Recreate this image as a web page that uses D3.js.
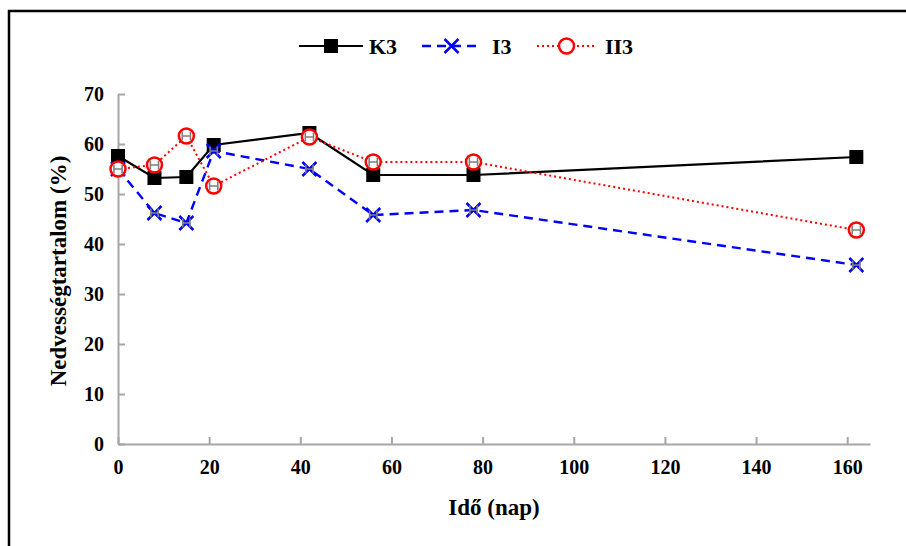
<!DOCTYPE html>
<html>
<head>
<meta charset="utf-8">
<script src="https://cdn.jsdelivr.net/npm/d3@7"></script>
<style>
  html, body { margin: 0; padding: 0; background: #fff; }
  svg { display: block; }
  text { font-family: "Liberation Serif", "Times New Roman", serif; font-weight: bold; fill: #000; }
</style>
</head>
<body>
<svg id="chart" width="906" height="546"></svg>
<script>
const days = [0, 8, 15, 21, 42, 56, 78, 162];
const seriesNames = ["K3", "I3", "II3"];
const k3 = [57.6, 53.2, 53.4, 59.8, 62.2, 53.8, 53.8, 57.4];
const i3 = [55.0, 46.2, 44.2, 58.6, 55.0, 45.8, 46.8, 35.8];
const ii3 = [55.0, 55.8, 61.6, 51.6, 61.4, 56.4, 56.4, 42.8];
const i3Err = [0.8, 0.8, 0.8, 0.8, 0.8, 0.8, 0.8, 0.8];   // error (days), horizontal
const ii3Err = [0.9, 0.9, 0.9, 0.9, 0.9, 0.9, 0.9, 0.9];  // error (days), horizontal
const xTicks = [0, 20, 40, 60, 80, 100, 120, 140, 160];
const yTicks = [0, 10, 20, 30, 40, 50, 60, 70];
const xTitle = "Idő (nap)";
const yTitle = "Nedvességtartalom (%)";

const svg = d3.select("#chart");

// outer chart border (top and left visible)
svg.append("rect").attr("x", 9).attr("y", 11).attr("width", 1000).attr("height", 1000)
  .attr("fill", "none").attr("stroke", "#000").attr("stroke-width", 2.5);

const x = d3.scaleLinear().domain([0, 165]).range([118, 870]);
const y = d3.scaleLinear().domain([0, 70]).range([444, 94]);

const axisColor = "#a6a6a6";

// y axis
const yAxis = svg.append("g").attr("transform", `translate(${x(0)},0)`)
  .call(d3.axisLeft(y).tickValues(yTicks).tickSizeInner(-7).tickSizeOuter(0).tickPadding(14));
yAxis.select(".domain").attr("stroke", axisColor).attr("stroke-width", 2);
yAxis.selectAll(".tick line").attr("stroke", axisColor).attr("stroke-width", 2);
yAxis.selectAll(".tick text").attr("font-size", 20).attr("font-family", "Liberation Serif").attr("font-weight", "bold").attr("fill", "#000");

// x axis
const xAxis = svg.append("g").attr("transform", `translate(0,${y(0)})`)
  .call(d3.axisBottom(x).tickValues(xTicks).tickSizeInner(-7).tickSizeOuter(0).tickPadding(16));
xAxis.select(".domain").attr("stroke", axisColor).attr("stroke-width", 2);
xAxis.selectAll(".tick line").attr("stroke", axisColor).attr("stroke-width", 2);
xAxis.selectAll(".tick text").attr("font-size", 20).attr("font-family", "Liberation Serif").attr("font-weight", "bold").attr("fill", "#000");

// titles
svg.append("text").attr("x", 494).attr("y", 515).attr("text-anchor", "middle")
  .attr("font-size", 23).text(xTitle);
svg.append("text").attr("transform", "translate(66,271) rotate(-90)").attr("text-anchor", "middle")
  .attr("font-size", 23).text(yTitle);

const styles = {
  K3: { color: "#000", width: 2.2, dash: null, marker: "square" },
  I3: { color: "#0000ff", width: 2.4, dash: "9,6", marker: "x" },
  II3: { color: "#ff0000", width: 2, dash: "2,3", marker: "circle" }
};

function drawMarker(g, type, cx, cy, color) {
  if (type === "square") {
    g.append("rect").attr("x", cx - 7).attr("y", cy - 7).attr("width", 14).attr("height", 14)
      .attr("fill", "#000");
  } else if (type === "x") {
    const s = 7;
    g.append("path").attr("d", `M${cx - s},${cy - s}L${cx + s},${cy + s}M${cx - s},${cy + s}L${cx + s},${cy - s}`)
      .attr("stroke", color).attr("stroke-width", 2.5).attr("fill", "none");
  } else {
    g.append("circle").attr("cx", cx).attr("cy", cy).attr("r", 7.5)
      .attr("fill", "#fff").attr("stroke", color).attr("stroke-width", 2.5);
  }
}

// horizontal error bars (grey "H" shapes)
function drawErr(g, vals, errs) {
  vals.forEach((v, i) => {
    const cy = y(v);
    const x1 = x(days[i] - errs[i]), x2 = x(days[i] + errs[i]);
    g.append("path").attr("d", `M${x1},${cy}L${x2},${cy}M${x1},${cy - 4.5}L${x1},${cy + 4.5}M${x2},${cy - 4.5}L${x2},${cy + 4.5}`)
      .attr("stroke", "#7f7f7f").attr("stroke-width", 1.6).attr("fill", "none");
  });
}

const data = { K3: k3, I3: i3, II3: ii3 };
const line = d3.line().x((d, i) => x(days[i])).y(d => y(d));

seriesNames.forEach(name => {
  const st = styles[name];
  const g = svg.append("g");
  g.append("path").datum(data[name]).attr("d", line).attr("fill", "none")
    .attr("stroke", st.color).attr("stroke-width", st.width)
    .attr("stroke-dasharray", st.dash);
  data[name].forEach((v, i) => drawMarker(g, st.marker, x(days[i]), y(v), st.color));
  if (name === "I3") drawErr(g, i3, i3Err);
  if (name === "II3") drawErr(g, ii3, ii3Err);
});

// legend
const legendItems = [
  { name: "K3", x0: 299, x1: 363, tx: 369 },
  { name: "I3", x0: 422, x1: 481, tx: 492 },
  { name: "II3", x0: 537, x1: 596, tx: 605 }
];
const ly = 46;
legendItems.forEach(it => {
  const st = styles[it.name];
  const g = svg.append("g");
  g.append("line").attr("x1", it.x0).attr("x2", it.x1).attr("y1", ly).attr("y2", ly)
    .attr("stroke", st.color).attr("stroke-width", st.width).attr("stroke-dasharray", st.dash);
  drawMarker(g, st.marker, (it.x0 + it.x1) / 2, ly, st.color);
  g.append("text").attr("x", it.tx).attr("y", ly + 7.5).attr("font-size", 22).text(it.name);
});
</script>
</body>
</html>
